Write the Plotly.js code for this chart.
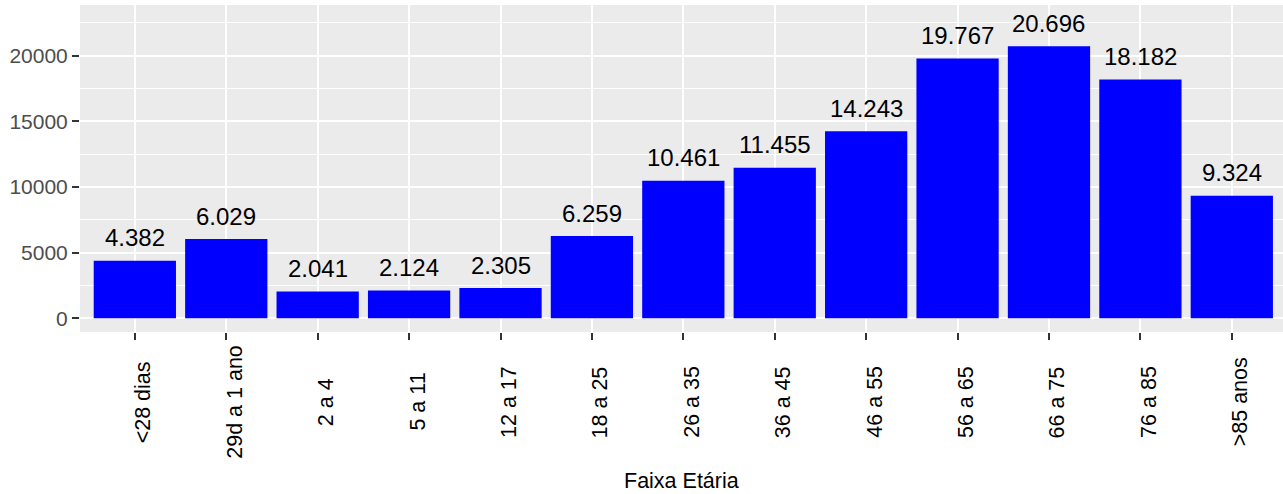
<!DOCTYPE html>
<html>
<head>
<meta charset="utf-8">
<script src="https://cdn.plot.ly/plotly-3.0.1.min.js"></script>
<style>html,body{margin:0;padding:0;background:#fff;}#chart{width:1283px;height:494px;}</style>
</head>
<body>
<div id="chart"></div>
<script>
var categories = ["<28 dias", "29d a 1 ano", "2 a 4", "5 a 11", "12 a 17", "18 a 25", "26 a 35", "36 a 45", "46 a 55", "56 a 65", "66 a 75", "76 a 85", ">85 anos"];
var values = [4382, 6029, 2041, 2124, 2305, 6259, 10461, 11455, 14243, 19767, 20696, 18182, 9324];
var yTickVals = [0, 5000, 10000, 15000, 20000];
var xTitle = "Faixa Etária";

function fmt(v) {
  return String(v).replace(/\B(?=(\d{3})+(?!\d))/g, ".");
}

var FONT = "Liberation Sans, Arial, sans-serif";
var PANEL_TOP = 5, PANEL_BOTTOM = 332, PANEL_H = PANEL_BOTTOM - PANEL_TOP;
function paperY(py) { return (PANEL_BOTTOM - py) / PANEL_H; }

var trace = {
  type: "bar",
  x: categories,
  y: values,
  width: 0.9,
  marker: {color: "#0000FF", line: {width: 0}},
  hoverinfo: "x+y"
};

var annotations = [];
categories.forEach(function (c, i) {
  annotations.push({
    x: c, y: values[i], xref: "x", yref: "y",
    text: fmt(values[i]), showarrow: false,
    xanchor: "center", yanchor: "bottom", yshift: 7.5,
    font: {family: FONT, size: 24, color: "#000000"}
  });
  annotations.push({
    x: c, y: paperY(402), xref: "x", yref: "paper",
    text: c, showarrow: false, textangle: -90,
    xanchor: "center", yanchor: "middle", xshift: 8.5,
    font: {family: FONT, size: 21.5, color: "#000000"}
  });
});
annotations.push({
  x: 0.5, y: paperY(481), xref: "paper", yref: "paper",
  text: xTitle, showarrow: false, xanchor: "center", yanchor: "middle",
  font: {family: FONT, size: 21.5, color: "#000000"}
});

var layout = {
  width: 1283, height: 494,
  margin: {l: 80, r: 0, t: PANEL_TOP, b: 494 - PANEL_BOTTOM, pad: 0},
  paper_bgcolor: "#FFFFFF",
  plot_bgcolor: "#EBEBEB",
  showlegend: false,
  bargap: 0.1,
  xaxis: {
    type: "category",
    categoryorder: "array", categoryarray: categories,
    range: [-0.6, 12.56],
    showgrid: true, gridcolor: "#FFFFFF", gridwidth: 2,
    zeroline: false, showline: false,
    ticks: "outside", ticklen: 7, tickwidth: 2, tickcolor: "#333333",
    showticklabels: false,
    fixedrange: true
  },
  yaxis: {
    range: [-1043, 23843],
    tickvals: yTickVals,
    ticktext: yTickVals.map(String),
    showgrid: true, gridcolor: "#FFFFFF", gridwidth: 2,
    minor: {dtick: 2500, tick0: 0, showgrid: true, gridcolor: "#FFFFFF", gridwidth: 1, ticks: ""},
    zeroline: false, showline: false,
    ticks: "outside", ticklen: 7, tickwidth: 2, tickcolor: "#333333",
    tickfont: {family: FONT, size: 21, color: "#4D4D4D"},
    fixedrange: true
  },
  annotations: annotations
};

Plotly.newPlot("chart", [trace], layout, {displayModeBar: false, staticPlot: true});
</script>
</body>
</html>
